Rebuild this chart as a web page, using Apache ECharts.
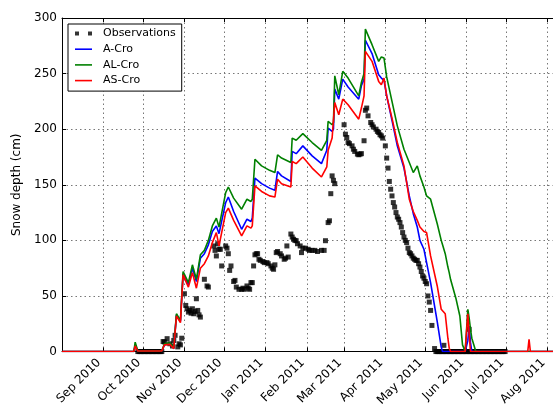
<!DOCTYPE html>
<html>
<head>
<meta charset="utf-8">
<script src="https://cdn.jsdelivr.net/npm/echarts@6/dist/echarts.min.js"></script>
<style>html,body{margin:0;padding:0;background:#fff}#main{width:553px;height:409px}</style>
</head>
<body>
<div id="main"></div>
<script>
// model runs at the turning points
var modelDates = ['2010-08-01','2010-09-24','2010-09-25','2010-09-27','2010-10-09','2010-10-10','2010-10-11','2010-10-15','2010-10-17','2010-10-21',
  '2010-10-24','2010-10-26','2010-10-29','2010-10-31','2010-11-04','2010-11-07','2010-11-10','2010-11-13','2010-11-16','2010-11-19',
  '2010-11-22','2010-11-25','2010-11-27','2010-12-02','2010-12-04','2010-12-08','2010-12-14','2010-12-18','2010-12-21','2010-12-22',
  '2010-12-24','2010-12-29','2011-01-04','2011-01-08','2011-01-10','2011-01-13','2011-01-20','2011-01-21','2011-01-24','2011-01-29',
  '2011-02-05','2011-02-12','2011-02-16','2011-02-17','2011-02-20','2011-02-21','2011-02-22','2011-02-25','2011-02-28','2011-03-04',
  '2011-03-12','2011-03-14','2011-03-16','2011-03-17','2011-03-22','2011-03-27','2011-03-29','2011-03-31','2011-04-02','2011-04-06',
  '2011-04-10','2011-04-15','2011-04-19','2011-04-22','2011-04-25','2011-04-27','2011-04-30','2011-05-02','2011-05-05','2011-05-10',
  '2011-05-13','2011-05-14','2011-05-16','2011-05-18','2011-05-19','2011-05-20','2011-05-24','2011-05-27','2011-05-29','2011-05-31',
  '2011-06-02','2011-06-03','2011-06-04','2011-06-05','2011-06-08','2011-07-17','2011-07-18','2011-07-19','2011-08-05'];
var aCro = [0,0,6,0.5,0.5,2,0.5,0.5,6,7,
  3,33,27,70,60,75,63,84,88,96,
  108,113,106,134,139,126,110,119,117,120,
  156,151,147,145,162,158,153,180,178,185,
  176,169,181,201,198,200,236,227,245,238,
  227,239,245,280,268,249,246,244,230,208,
  185,165,140,124,112,100,92,80,62,27,
  4,0,0,0,0,0,0,0,0,0,
  10,23,8,0,0,0,0,0,0];
var alCro = [0,0,8.5,0.5,0.5,2,0.5,0.5,7,8,
  3.5,34,28,72,62,78,65,87,91,100,
  113,120,112,143,148,138,128,137,135,137,
  173,167,163,161,177,174,170,192,190,196,
  188,181,190,207,204,206,248,231,252,246,
  230,242,250,290,276,261,265,264,247,225,
  203,182,170,161,167,158,148,140,137,115,
  100,96,88,76,71,65,48,32,6,0,
  38,30,20,12,0,0,0,0,0];
var asCro = [0,0,5,0.5,0.5,2,0.5,0.5,6,6.5,
  2.5,32,26,69,58,71,57,75,79,86,
  98,107,95,125,129,118,104,113,111,113,
  149,144,140,139,155,151,148,171,169,175,
  165,157,166,181,192,193,224,213,227,222,
  209,219,230,270,261,243,240,246,230,210,
  188,167,137,126,118,112,108,107,86,59,
  38,37,34,12,3,0,0,0,0,0,
  34,15,0,0,0,0,11,0,0];

// observations
var obsDates = ['2010-10-16','2010-10-17','2010-10-19','2010-10-21','2010-10-23','2010-10-24','2010-10-25','2010-10-27','2010-10-28','2010-10-29',
  '2010-10-30','2010-11-01','2010-11-02','2010-11-03','2010-11-04','2010-11-05','2010-11-06','2010-11-07','2010-11-08','2010-11-09',
  '2010-11-10','2010-11-11','2010-11-12','2010-11-13','2010-11-16','2010-11-18','2010-11-19','2010-11-23','2010-11-24','2010-11-25',
  '2010-11-26','2010-11-27','2010-11-28','2010-11-29','2010-12-02','2010-12-03','2010-12-04','2010-12-05','2010-12-06','2010-12-08',
  '2010-12-09','2010-12-10','2010-12-12','2010-12-14','2010-12-15','2010-12-16','2010-12-18','2010-12-19','2010-12-20','2010-12-21',
  '2010-12-22','2010-12-23','2010-12-24','2010-12-25','2010-12-26','2010-12-27','2010-12-28','2010-12-30','2010-12-31','2011-01-02',
  '2011-01-03','2011-01-05','2011-01-06','2011-01-07','2011-01-08','2011-01-09','2011-01-10','2011-01-12','2011-01-13','2011-01-15',
  '2011-01-16','2011-01-17','2011-01-18','2011-01-20','2011-01-21','2011-01-22','2011-01-23','2011-01-24','2011-01-25','2011-01-27',
  '2011-01-28','2011-01-29','2011-01-31','2011-02-02','2011-02-03','2011-02-05','2011-02-07','2011-02-09','2011-02-12','2011-02-14',
  '2011-02-15','2011-02-17','2011-02-18','2011-02-19','2011-02-20','2011-02-21','2011-02-22','2011-03-01','2011-03-02','2011-03-03',
  '2011-03-04','2011-03-05','2011-03-07','2011-03-08','2011-03-09','2011-03-11','2011-03-12','2011-03-13','2011-03-14','2011-03-16',
  '2011-03-17','2011-03-18','2011-03-19','2011-03-21','2011-03-22','2011-03-23','2011-03-25','2011-03-26','2011-03-27','2011-03-28',
  '2011-03-29','2011-03-30','2011-04-01','2011-04-02','2011-04-03','2011-04-04','2011-04-05','2011-04-06','2011-04-07','2011-04-08',
  '2011-04-09','2011-04-10','2011-04-11','2011-04-12','2011-04-13','2011-04-14','2011-04-15','2011-04-16','2011-04-17','2011-04-18',
  '2011-04-19','2011-04-20','2011-04-21','2011-04-22','2011-04-23','2011-04-24','2011-04-25','2011-04-26','2011-04-27','2011-04-28',
  '2011-04-29','2011-04-30','2011-05-01','2011-05-02','2011-05-03','2011-05-04','2011-05-05','2011-05-06','2011-05-08','2011-05-15',
  '2011-06-03'];
var obsValues = [9,8.7,11.6,7,5,10,14.6,4.2,7,6,
  12,52,41.5,38.5,35.5,37,34.5,38.5,34,36,
  47.5,37,33,31,65,59,58,95,91,86,
  97,92,92,77,95,93,88,73,77,63,
  64,58,56,56,57,56,59,57,56,62,
  62,77,87,88,88,83,82,81,80,80,
  79,77,75,74,78,89,90,88,86,83,
  84,95,85,105.7,103,101,100,99.7,97,95,
  89,93,93,92,91,91,91,90,91,91,
  99.7,116,117.6,142,158,154,151,204,195.5,192.5,
  188,187,185,182,180,177.6,177,177.6,178,189.6,
  217,219,212,206,204,202,200,198,197,195,
  194,192,185,174,165,153,146,140,134,130,
  125,121,119,116,112,107,103,100,98,93,
  89,88,86,84,83,82,82,79,76,72,
  68,66,63,61,50,44.5,37,23.5,2.7,5.6,
  20];
// stretches where every daily observation sits at 0 cm
var obsZeroRuns = [['2010-09-27','2010-10-15'], ['2011-05-09','2011-06-30']];

var seriesNames = ['Observations', 'A-Cro', 'AL-Cro', 'AS-Cro'];
var monthNames = ['Jan','Feb','Mar','Apr','May','Jun','Jul','Aug','Sep','Oct','Nov','Dec'];

var DAY = 86400000;
var font = 'DejaVu Sans';
var lineIcon = 'path://M0,0h17v1.6h-17z';

function pairs(dates, vals) {
  return dates.map(function (d, i) { return [d, vals[i]]; });
}
var obsData = pairs(obsDates, obsValues);
obsZeroRuns.forEach(function (r) {
  var t = +new Date(r[0] + 'T00:00:00'), end = +new Date(r[1] + 'T00:00:00');
  for (; t <= end; t += DAY) obsData.push([t, 0]);
});

function modelLine(name, vals, color) {
  return {
    name: name, type: 'line', data: pairs(modelDates, vals),
    symbol: 'none', showSymbol: false,
    lineStyle: { width: 1.6, color: color }, itemStyle: { color: color }
  };
}

var myChart = echarts.init(document.getElementById('main'));
var option = {
  animation: false,
  backgroundColor: '#fff',
  grid: { left: 62, top: 18, width: 499, height: 335 },
  legend: {
    orient: 'vertical', left: 68, top: 24,
    padding: [4, 6, 5, 7], itemGap: 4.7, itemWidth: 17, itemHeight: 12,
    borderColor: '#000', borderWidth: 1, backgroundColor: '#fff',
    textStyle: { fontFamily: font, fontSize: 11, color: '#000', padding: [0, 0, 0, 6] },
    data: [
      { name: seriesNames[0], icon: 'path://M0,0h4v4h-4zM13,0h4v4h-4z' },
      { name: seriesNames[1], icon: lineIcon },
      { name: seriesNames[2], icon: lineIcon },
      { name: seriesNames[3], icon: lineIcon }
    ]
  },
  xAxis: [{
    type: 'time', min: '2010-08-01', max: '2011-08-05',
    splitNumber: 12, minInterval: 28 * DAY, maxInterval: 31 * DAY,
    axisLine: { lineStyle: { color: '#000', width: 1 } },
    axisTick: { inside: true, length: 4, lineStyle: { color: '#000' } },
    axisLabel: {
      rotate: 45, margin: 5, padding: [0, 6, 0, 0],
      fontFamily: font, fontSize: 12, color: '#000', hideOverlap: false,
      formatter: function (v) {
        var d = new Date(v);
        if (d.getFullYear() === 2010 && d.getMonth() === 7) return '';
        return monthNames[d.getMonth()] + ' ' + d.getFullYear();
      }
    },
    splitLine: { show: true, lineStyle: { type: [1.5, 3], color: '#777', width: 1 } }
  }, {
    type: 'time', position: 'top', min: '2010-08-01', max: '2011-08-05',
    splitNumber: 12, minInterval: 28 * DAY, maxInterval: 31 * DAY,
    axisLine: { show: true, lineStyle: { color: '#000', width: 1 } },
    axisTick: { show: true, inside: true, length: 4, lineStyle: { color: '#000' } },
    axisLabel: { show: false }, splitLine: { show: false }
  }],
  yAxis: {
    type: 'value', min: 0, max: 300, interval: 50,
    name: 'Snow depth (cm)', nameLocation: 'middle', nameGap: 38,
    nameTextStyle: { fontFamily: font, fontSize: 12, color: '#000' },
    axisLine: { show: true, lineStyle: { color: '#000', width: 1 } },
    axisTick: { show: true, inside: true, length: 4, lineStyle: { color: '#000' } },
    axisLabel: { fontFamily: font, fontSize: 12, color: '#000', margin: 5 },
    splitLine: { show: true, lineStyle: { type: [1.5, 3], color: '#777', width: 1 } }
  },
  series: [
    { name: seriesNames[0], type: 'scatter', symbol: 'rect', symbolSize: 5, itemStyle: { color: '#000' }, data: obsData },
    modelLine(seriesNames[1], aCro, '#0000ff'),
    modelLine(seriesNames[2], alCro, '#008000'),
    modelLine(seriesNames[3], asCro, '#ff0000')
  ]
};
myChart.setOption(option);
</script>
</body>
</html>
